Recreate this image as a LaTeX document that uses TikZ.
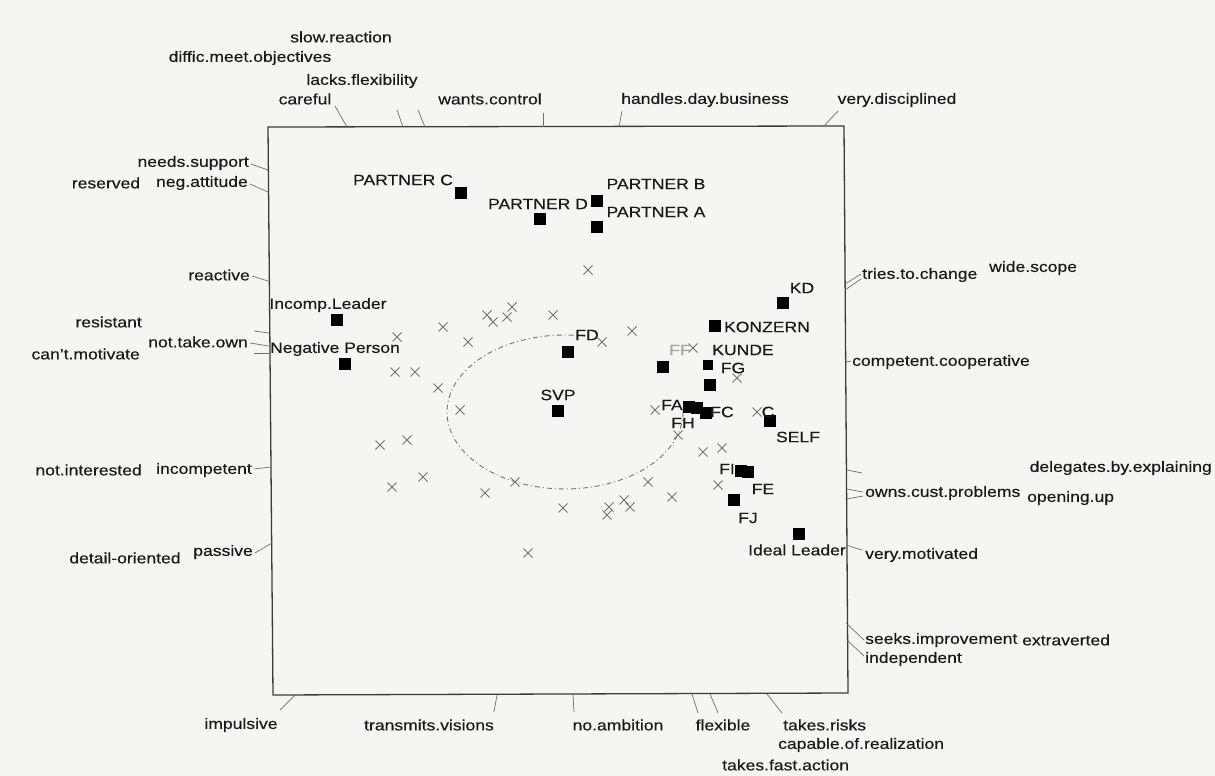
\documentclass[tikz,border=0pt]{standalone}
\usepackage{fontspec}
\setmainfont{Liberation Sans}[FakeStretch=1.17, FakeBold=0.35]
\definecolor{bg}{RGB}{245,245,243}
\definecolor{ink}{RGB}{25,25,25}
\definecolor{xm}{RGB}{115,115,115}
\definecolor{leadc}{RGB}{110,110,110}
\tikzset{
  lbl/.style={font=\fontsize{15}{18}\selectfont, text=ink, inner sep=0pt},
  faint/.style={lbl, text=gray!70},
  sq/.style={fill=black, draw=none, minimum size=12pt, inner sep=0pt},
  lead/.style={draw=leadc, line width=0.7pt},
  frame/.style={draw=ink!85, line width=1.3pt},
  xmk/.pic={\draw[xm, line width=0.75pt] (-4.5,-4.5)--(4.5,4.5) (-4.5,4.5)--(4.5,-4.5);}
}
\begin{document}
\begin{tikzpicture}[x=1pt,y=-1pt]
\useasboundingbox (0,0) rectangle (1215,776);
\fill[bg] (0,0) rectangle (1215,776);

% frame
\coordinate (tl) at (268,127);
\coordinate (tr) at (844,126);
\coordinate (br) at (848,693);
\coordinate (bl) at (273,695);
\draw[frame] (tl) -- (tr) -- (br) -- (bl) -- cycle;

% dash-dotted arc
\draw[xm, line width=0.9pt, dash pattern=on 5pt off 3pt on 1pt off 3pt]
  plot[domain=80:362, samples=80] ({565+118*cos(\x)}, {412-77*sin(\x)});

% grey crosses
\foreach \a/\b in {588/270, 512/307, 487/315, 493/322, 507/317, 553/315, 443/327,
  468/342, 397/337, 395/372, 415/372, 438/388, 460/410, 602/342, 632/331,
  380/445, 407/440, 423/477, 392/487, 485/493, 515/482, 563/508, 609/507,
  607/515, 624/500, 630/507, 648/482, 672/497, 678/435, 703/452, 722/448,
  528/553, 655/410, 693/348, 737/378, 757/412, 718/485}
  \pic at (\a,\b) {xmk};

% squares
\node[sq] (pC) at (461,193) {};
\node[sq] (pD) at (540,219) {};
\node[sq] (pB) at (597,201) {};
\node[sq] (pA) at (597,227) {};
\node[sq] (inc) at (337,320) {};
\node[sq] (neg) at (345,364) {};
\node[sq] (fd) at (568,352) {};
\node[sq] (svp) at (558,411) {};
\node[sq] (kd) at (783,303) {};
\node[sq] (konz) at (715,326) {};
\node[sq] (ff) at (663,367) {};
\node[sq, minimum size=10pt] (fg) at (708,365) {};
\node[sq] (kunde) at (710,385) {};
\node[sq] (fa) at (689,407) {};
\node[sq] (fh) at (697,408) {};
\node[sq] (fc) at (706,413) {};
\node[sq] (self) at (770,421) {};
\node[sq] (fi) at (741,471) {};
\node[sq] (fe) at (748,472) {};
\node[sq] (fj) at (734,500) {};
\node[sq] (ideal) at (799,534) {};

% point labels
\node[lbl] at (403,180) {PARTNER C};
\node[lbl] at (538,204) {PARTNER D};
\node[lbl] at (656,184) {PARTNER B};
\node[lbl] at (656,212) {PARTNER A};
\node[lbl] at (328,305) {Incomp.Leader};
\node[lbl] at (335,349) {Negative Person};
\node[lbl] at (587,335) {FD};
\node[lbl] at (558,395) {SVP};
\node[lbl] at (802,288) {KD};
\node[lbl] at (767,327) {KONZERN};
\node[lbl] at (743,350) {KUNDE};
\node[faint] at (680,350) {FF};
\node[lbl] at (733,368) {FG};
\node[lbl] at (672,405) {FA};
\node[lbl] at (683,423) {FH};
\node[lbl] at (722,412) {FC};
\node[lbl] at (768,412) {C};
\node[lbl] at (798,437) {SELF};
\node[lbl] at (727,469) {FI};
\node[lbl] at (763,489) {FE};
\node[lbl] at (748,518) {FJ};
\node[lbl] at (797,550) {Ideal Leader};

% top labels
\node[lbl] at (341,37) {slow.reaction};
\node[lbl] at (250,58) {diffic.meet.objectives};
\node[lbl] at (362,81) {lacks.flexibility};
\node[lbl] at (305,99) {careful};
\node[lbl] at (490,99) {wants.control};
\node[lbl] at (705,100) {handles.day.business};
\node[lbl] at (897,100) {very.disciplined};
\draw[lead] (335,106) -- (347,127);
\draw[lead] (397,110) -- (403,127);
\draw[lead] (418,110) -- (425,127);
\draw[lead] (543,113) -- (543,127);
\draw[lead] (622,111) -- (619,127);
\draw[lead] (838,111) -- (823,127);

% left labels
\node[lbl, anchor=east] at (249,163) {needs.support};
\node[lbl] at (106,183) {reserved};
\node[lbl, anchor=east] at (248,183) {neg.attitude};
\node[lbl, anchor=east] at (250,275) {reactive};
\node[lbl, anchor=east] at (142,322) {resistant};
\node[lbl, anchor=east] at (248,342) {not.take.own};
\node[lbl, anchor=east] at (140,354) {can't.motivate};
\node[lbl, anchor=east] at (142,470) {not.interested};
\node[lbl, anchor=east] at (252,470) {incompetent};
\node[lbl] at (125,558) {detail-oriented};
\node[lbl, anchor=east] at (253,552) {passive};
\draw[lead] (251,164) -- (268,170);
\draw[lead] (250,184) -- (268,192);
\draw[lead] (252,276) -- (268,281);
\draw[lead] (254,331) -- (269,333);
\draw[lead] (250,343) -- (269,346);
\draw[lead] (254,353) -- (269,353);
\draw[lead] (254,469) -- (271,467);
\draw[lead] (255,553) -- (272,543);

% right labels
\node[lbl, anchor=west] at (862,275) {tries.to.change};
\node[lbl, anchor=west] at (989,268) {wide.scope};
\node[lbl, anchor=west] at (852,362) {competent.cooperative};
\node[lbl, anchor=east] at (1212,468) {delegates.by.explaining};
\node[lbl, anchor=west] at (865,493) {owns.cust.problems};
\node[lbl, anchor=west] at (1027,498) {opening.up};
\node[lbl, anchor=west] at (865,555) {very.motivated};
\node[lbl, anchor=west] at (865,640) {seeks.improvement};
\node[lbl, anchor=west] at (1022,640) {extraverted};
\node[lbl, anchor=west] at (865,659) {independent};
\draw[lead] (845,284) -- (861,274);
\draw[lead] (845,290) -- (861,279);
\draw[lead] (846,362) -- (851,361);
\draw[lead] (847,470) -- (862,473);
\draw[lead] (847,489) -- (863,492);
\draw[lead] (847,499) -- (863,496);
\draw[lead] (846,545) -- (862,550);
\draw[lead] (846,623) -- (864,640);
\draw[lead] (847,640) -- (864,656);

% bottom labels
\node[lbl] at (241,725) {impulsive};
\node[lbl] at (429,725) {transmits.visions};
\node[lbl] at (618,725) {no.ambition};
\node[lbl] at (723,725) {flexible};
\node[lbl, anchor=west] at (783,725) {takes.risks};
\node[lbl, anchor=west] at (778,745) {capable.of.realization};
\node[lbl, anchor=west] at (722,765) {takes.fast.action};
\draw[lead] (295,695) -- (280,710);
\draw[lead] (497,695) -- (494,712);
\draw[lead] (573,695) -- (574,712);
\draw[lead] (692,694) -- (698,713);
\draw[lead] (710,694) -- (718,713);
\draw[lead] (767,694) -- (782,713);
\end{tikzpicture}
\end{document}
